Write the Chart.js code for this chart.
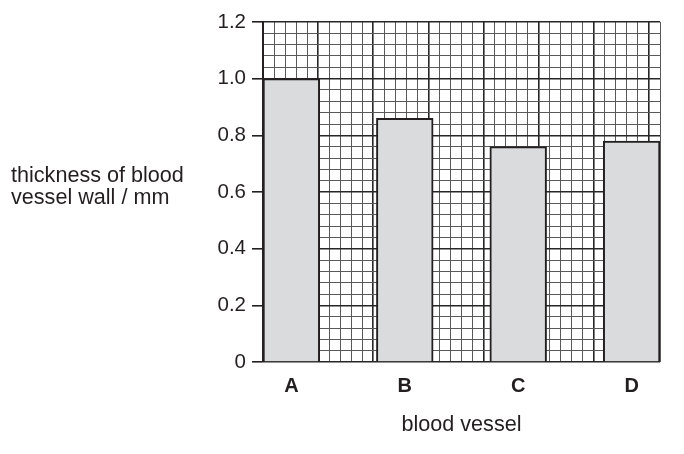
<!DOCTYPE html>
<html>
<head>
<meta charset="utf-8">
<script src="https://cdn.jsdelivr.net/npm/chart.js"></script>
<style>
  html, body { margin: 0; padding: 0; background: #fff; }
  #wrap { width: 684px; height: 454px; }
</style>
</head>
<body>
<div id="wrap"><canvas id="chart" width="684" height="454"></canvas></div>
<script>
// Chart data
const vessels = ["A", "B", "C", "D"];
const thickness = [1.0, 0.86, 0.76, 0.78];
const yTickLabels = ["0", "0.2", "0.4", "0.6", "0.8", "1.0", "1.2"];
const yTitleLines = ["thickness of blood", "vessel wall / mm"];
const xTitle = "blood vessel";

const ink = "#231f20";
const font = "'Liberation Sans', Arial, sans-serif";

// Each bar is followed by an empty slot of the same width
const slotLabels = [];
const slotValues = [];
vessels.forEach((name, i) => {
  if (i > 0) {
    slotLabels.push("");
    slotValues.push(null);
  }
  slotLabels.push(name);
  slotValues.push(thickness[i]);
});

// Graph paper: a dark line every 5 small squares
function gridColor(ctx) {
  return ctx.index % 5 === 0 ? "#262626" : "#595959";
}
function gridWidth(ctx) {
  return ctx.index % 5 === 0 ? 1.6 : 1;
}

// Horizontal y axis title at the left
const leftTitle = {
  id: "leftTitle",
  afterDraw(chart) {
    const c = chart.ctx;
    c.save();
    c.fillStyle = ink;
    c.font = "21.6px " + font;
    c.textAlign = "left";
    c.textBaseline = "alphabetic";
    c.fillText(yTitleLines[0], 11, 182);
    c.fillText(yTitleLines[1], 11, 203.5);
    c.restore();
  },
};

// Initialize chart
function initChart(ctx) {
  return new Chart(ctx, {
    type: "bar",
    data: {
      labels: slotLabels,
      datasets: [
        {
          data: slotValues,
          backgroundColor: "#dadbdd",
          borderColor: ink,
          borderWidth: 2,
          barPercentage: 1,
          categoryPercentage: 1,
        },
      ],
    },
    options: {
      responsive: false,
      animation: false,
      devicePixelRatio: 1,
      layout: { padding: { top: 22, right: 24, left: 0, bottom: 0 } },
      plugins: { legend: { display: false }, tooltip: { enabled: false } },
      scales: {
        x: {
          type: "category",
          position: "bottom",
          offset: true,
          grid: { display: false, drawTicks: false },
          border: { display: false },
          ticks: {
            color: ink,
            padding: 12,
            font: { family: font, size: 20, weight: "bold" },
          },
          title: {
            display: true,
            text: xTitle,
            color: ink,
            font: { family: font, size: 21.6 },
            padding: { top: 0, bottom: 16 },
          },
          afterFit(scale) {
            scale.height = 92;
          },
        },
        paper: {
          type: "linear",
          position: "bottom",
          min: 0,
          max: slotLabels.length,
          ticks: { display: false, stepSize: 0.2 },
          grid: {
            drawTicks: false,
            color: gridColor,
            lineWidth: gridWidth,
          },
          border: { display: false },
          afterFit(scale) {
            scale.height = 0;
          },
        },
        y: {
          min: 0,
          max: 1.2,
          ticks: {
            stepSize: 0.04,
            autoSkip: false,
            color: ink,
            padding: 6,
            font: { family: font, size: 20.5 },
            callback: (value, index) =>
              index % 5 === 0 ? yTickLabels[index / 5] : "",
          },
          grid: {
            color: gridColor,
            lineWidth: gridWidth,
            tickLength: 11,
            tickColor: (c) => (c.index % 5 === 0 ? ink : "rgba(0,0,0,0)"),
            tickWidth: 1.6,
          },
          border: { color: ink, width: 2 },
          afterFit(scale) {
            scale.width = 263;
          },
        },
      },
    },
    plugins: [leftTitle],
  });
}

initChart(document.getElementById("chart").getContext("2d"));
</script>
</body>
</html>
